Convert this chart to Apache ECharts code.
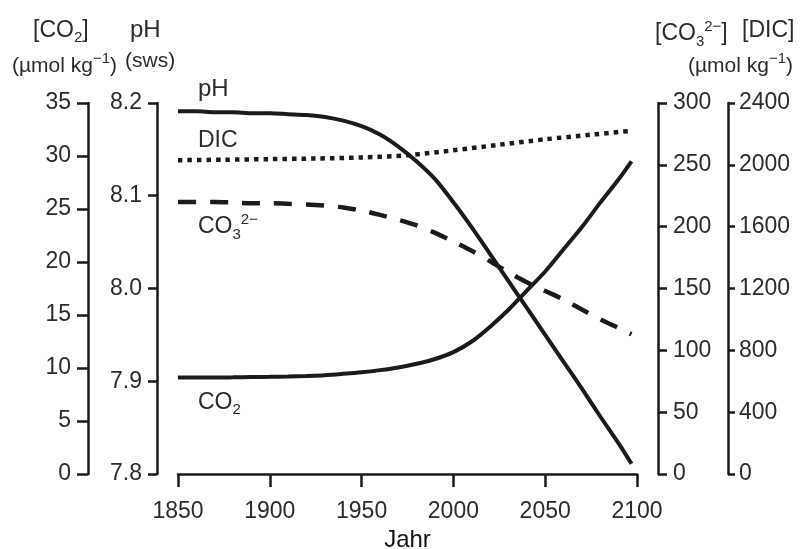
<!DOCTYPE html>
<html>
<head>
<meta charset="utf-8">
<title>Ozeanversauerung</title>
<script src="https://cdn.jsdelivr.net/npm/echarts@6/dist/echarts.min.js"></script>
<style>
  html, body { margin: 0; padding: 0; background: #fff; }
  #chart { width: 800px; height: 549px; }
</style>
</head>
<body>
<div id="chart"></div>
<script>
// values, [year, value]
const co2Data = [
  [1850, 9.1], [1860, 9.1], [1870, 9.1], [1880, 9.12], [1890, 9.15], [1900, 9.17],
  [1910, 9.2], [1920, 9.25], [1930, 9.32], [1940, 9.45], [1950, 9.6], [1960, 9.8],
  [1970, 10.05], [1980, 10.4], [1990, 10.85], [2000, 11.5], [2010, 12.5],
  [2020, 13.9], [2030, 15.5], [2040, 17.3], [2050, 19.1], [2060, 21.2],
  [2070, 23.3], [2080, 25.6], [2090, 27.8], [2097, 29.5]
]
const phData = [
  [1850, 8.191], [1860, 8.191], [1870, 8.190], [1880, 8.190], [1890, 8.189],
  [1900, 8.189], [1910, 8.188], [1920, 8.187], [1930, 8.185], [1940, 8.181],
  [1950, 8.175], [1960, 8.166], [1970, 8.153], [1980, 8.137], [1990, 8.118],
  [2000, 8.093], [2010, 8.066], [2020, 8.037], [2030, 8.008], [2040, 7.979],
  [2050, 7.950], [2060, 7.921], [2070, 7.892], [2080, 7.862], [2090, 7.833],
  [2097, 7.811]
]
const co3Data = [
  [1850, 220], [1860, 220], [1870, 220], [1880, 219.5], [1890, 219], [1900, 219],
  [1910, 218.5], [1920, 218], [1930, 217], [1940, 215.5], [1950, 213], [1960, 209.5],
  [1970, 205.5], [1980, 201], [1990, 195], [2000, 188], [2010, 180.5], [2020, 172],
  [2030, 163], [2040, 155], [2050, 148], [2060, 141], [2070, 133], [2080, 125],
  [2090, 118], [2097, 113]
]
const dicData = [
  [1850, 2030], [1875, 2033], [1900, 2037], [1925, 2041], [1950, 2048], [1975, 2062],
  [2000, 2094], [2025, 2130], [2050, 2165], [2075, 2195], [2097, 2220]
]

const FONT = 'Liberation Sans, Arial, Helvetica, sans-serif'
const TXT = '#2b2b2b'
const INK = '#1c1a1b'

// rich text styles for sub-/superscripts
const rich = (size) => ({
  m: { fontSize: size, fontFamily: FONT, color: TXT, lineHeight: 30 },
  sub: { fontSize: 15, fontFamily: FONT, color: TXT, lineHeight: 15, verticalAlign: 'bottom' },
  sup: { fontSize: 15, fontFamily: FONT, color: TXT, lineHeight: 22, verticalAlign: 'top' }
})

function label(x, y, text, size) {
  return {
    type: 'text',
    left: x,
    top: y - 9,
    style: { text: text, rich: rich(size || 23), font: (size || 23) + 'px ' + FONT, fill: TXT }
  }
}

function yAxis(pos, offset, min, max, interval, tickLen, margin, fmt) {
  return {
    type: 'value',
    position: pos,
    offset: offset,
    min: min,
    max: max,
    interval: interval,
    splitLine: { show: false },
    axisLine: { show: true, lineStyle: { color: INK, width: 2.5 } },
    axisTick: { show: true, length: tickLen, lineStyle: { color: INK, width: 2.5 } },
    axisLabel: {
      fontSize: 23,
      fontFamily: FONT,
      color: TXT,
      margin: margin,
      formatter: fmt || (v => String(v))
    }
  }
}

const chart = echarts.init(document.getElementById('chart'), null, { renderer: 'canvas' })

chart.setOption({
  animation: false,
  backgroundColor: '#fff',
  grid: { left: 178, right: 163, top: 103, bottom: 75, outerBoundsMode: 'none', containLabel: false },
  xAxis: {
    type: 'value',
    min: 1850,
    max: 2100,
    interval: 50,
    offset: 2,
    name: 'Jahr',
    nameLocation: 'middle',
    nameGap: 52,
    nameTextStyle: { fontSize: 24, fontFamily: FONT, color: '#111' },
    splitLine: { show: false },
    axisLine: { lineStyle: { color: INK, width: 2.5 } },
    axisTick: { length: 13, lineStyle: { color: INK, width: 2.5 } },
    axisLabel: { fontSize: 23, fontFamily: FONT, color: TXT, margin: 24, formatter: v => String(v) }
  },
  yAxis: [
    yAxis('left', 90, 0, 35, 5, 11, 17),
    yAxis('left', 21, 7.8, 8.2, 0.1, 9, 15, v => v.toFixed(1)),
    yAxis('right', 21, 0, 300, 50, 9, 15),
    yAxis('right', 91, 0, 2400, 400, 7, 11)
  ],
  graphic: [
    // axis headers
    label(33, 28, '{m|[CO}{sub|2}{m|]}'),
    label(130, 27, '{m|pH}', 24),
    label(12, 60, '{m|(µmol kg}{sup|−1}{m|)}', 21),
    label(125, 60, '{m|(sws)}', 21),
    label(655, 28, '{m|[CO}{sub|3}{sup|2−}{m|]}'),
    label(742, 28, '{m|[DIC]}'),
    label(688, 60, '{m|(µmol kg}{sup|−1}{m|)}', 21),
    // curve labels
    label(198, 86, '{m|pH}', 24),
    label(198, 138, '{m|DIC}'),
    label(198, 221, '{m|CO}{sub|3}{sup|2−}'),
    label(198, 400, '{m|CO}{sub|2}')
  ],
  series: [
    {
      name: 'CO2',
      type: 'line',
      yAxisIndex: 0,
      smooth: 0.3,
      showSymbol: false,
      lineStyle: { color: INK, width: 4 },
      data: co2Data
    },
    {
      name: 'pH',
      type: 'line',
      yAxisIndex: 1,
      smooth: 0.3,
      showSymbol: false,
      lineStyle: { color: INK, width: 4 },
      data: phData
    },
    {
      name: 'CO3',
      type: 'line',
      yAxisIndex: 2,
      smooth: 0.3,
      showSymbol: false,
      lineStyle: { color: INK, width: 4.5, type: [18, 14], cap: 'butt' },
      data: co3Data
    },
    {
      name: 'DIC',
      type: 'line',
      yAxisIndex: 3,
      smooth: 0.3,
      showSymbol: false,
      lineStyle: { color: INK, width: 4.5, type: [4.5, 5], cap: 'butt' },
      data: dicData
    }
  ]
})
</script>
</body>
</html>
